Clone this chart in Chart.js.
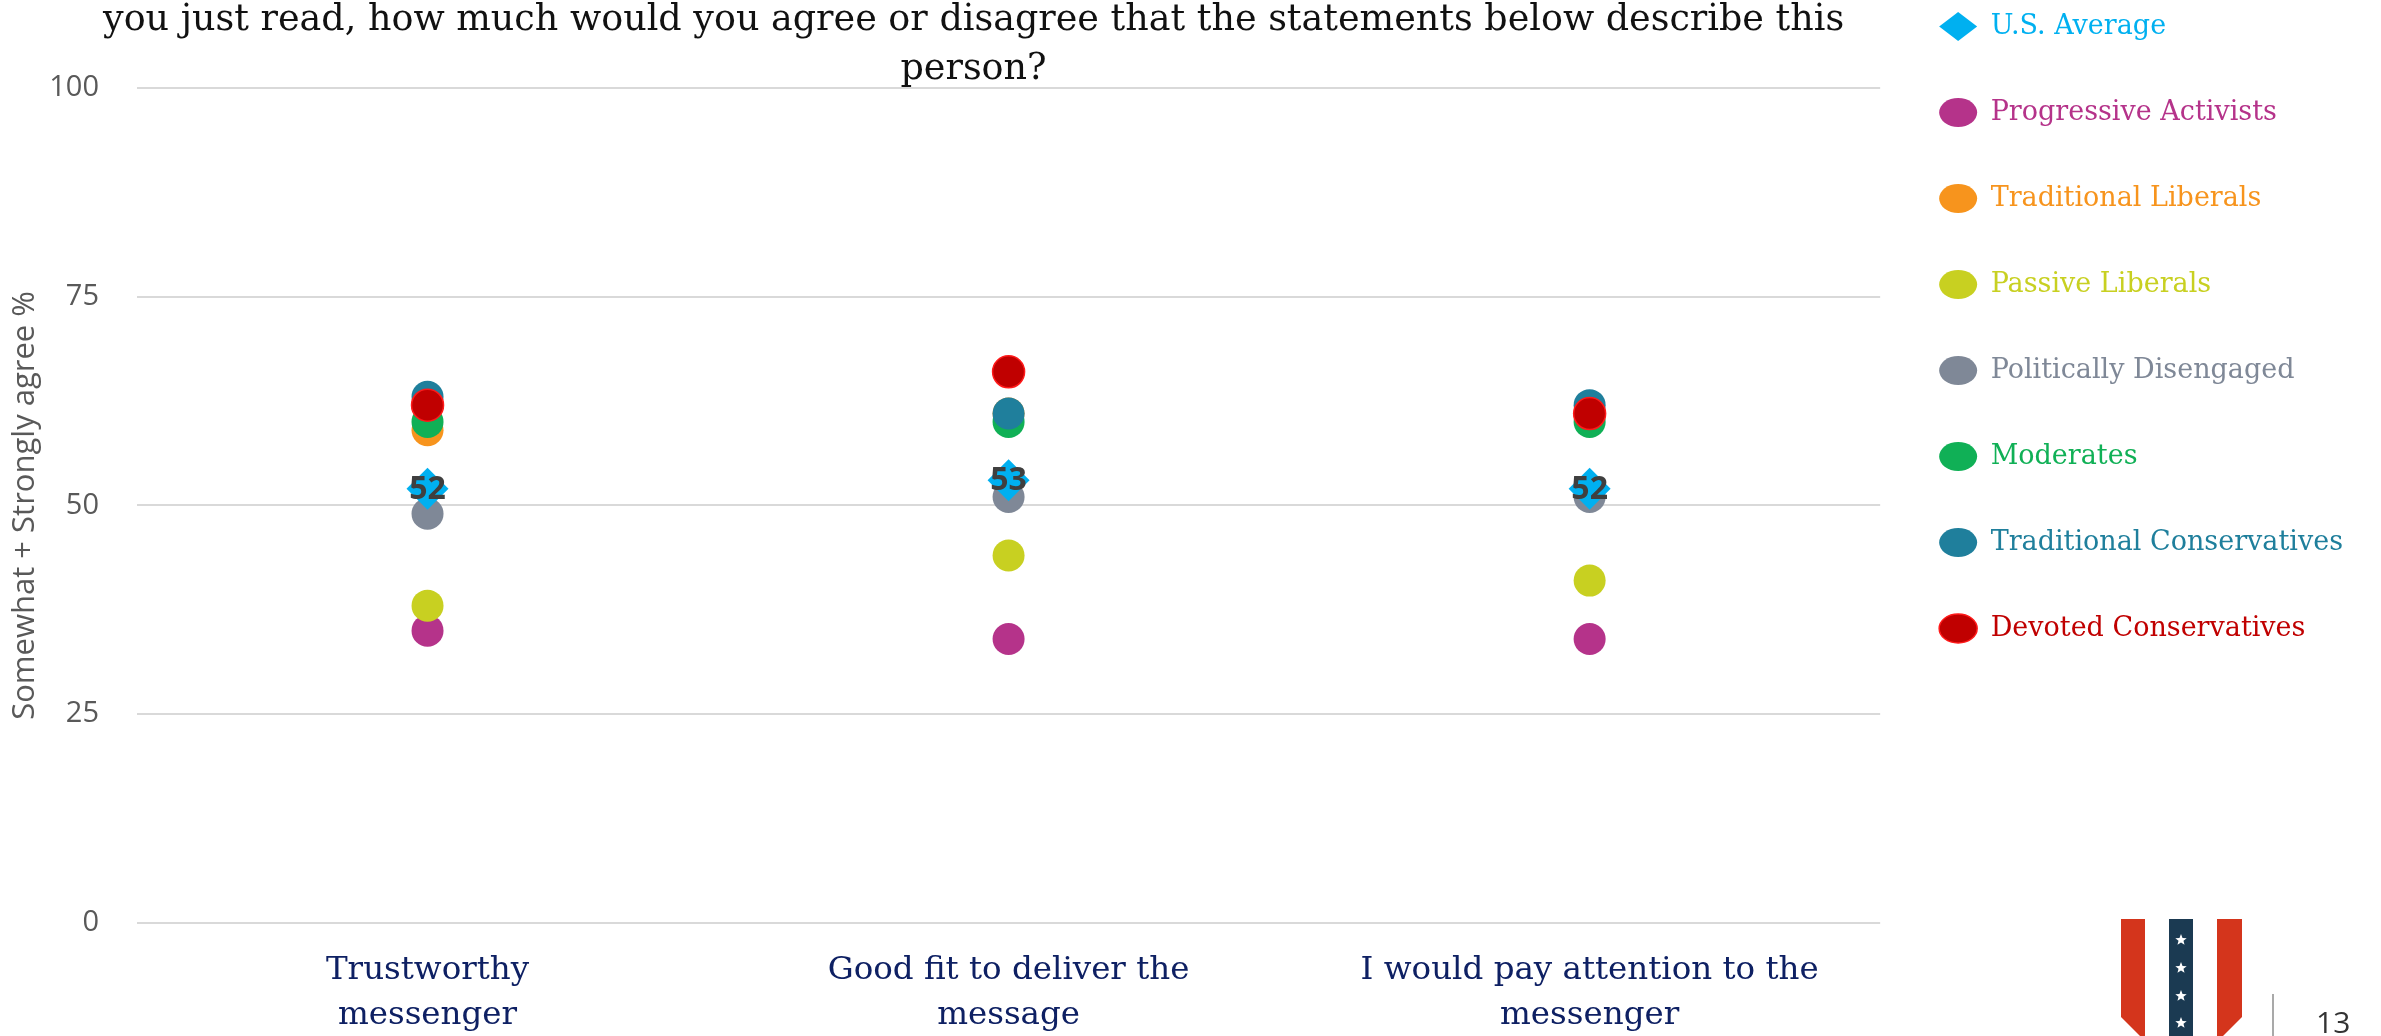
<!DOCTYPE html>
<html>
<head>
<meta charset="utf-8">
<script src="https://cdn.jsdelivr.net/npm/chart.js@4"></script>
<style>
  html, body { margin: 0; padding: 0; background: #fff; }
  #wrap { width: 2381px; height: 1036px; position: relative; }
</style>
</head>
<body>
<div id="wrap"><canvas id="messengerChart"></canvas></div>
<script>
// Categories and series values (Somewhat + Strongly agree %)
const categories = [
  ['Trustworthy', 'messenger'],
  ['Good fit to deliver the', 'message'],
  ['I would pay attention to the', 'messenger']
];
const seriesNames = [
  'U.S. Average', 'Progressive Activists', 'Traditional Liberals', 'Passive Liberals',
  'Politically Disengaged', 'Moderates', 'Traditional Conservatives', 'Devoted Conservatives'
];
const usAverage = [52, 53, 52];
const progressiveActivists = [35, 34, 34];
const traditionalLiberals = [59, 61, 61];
const passiveLiberals = [38, 44, 41];
const politicallyDisengaged = [49, 51, 51];
const moderates = [60, 60, 60];
const traditionalConservatives = [63, 61, 62];
const devotedConservatives = [62, 66, 61];
const yTicks = [0, 25, 50, 75, 100];

const seriesValues = [usAverage, progressiveActivists, traditionalLiberals, passiveLiberals,
  politicallyDisengaged, moderates, traditionalConservatives, devotedConservatives];
const seriesColors = ['#00b0f0', '#b5338a', '#f7941d', '#c8d021', '#7f8897', '#10b056', '#1f7f9c', '#c00000'];
// lower order is painted on top
const drawOrder = [0, 7, 4, 6, 5, 3, 2, 1];

const datasets = seriesNames.map((name, i) => ({
  label: name,
  data: seriesValues[i],
  showLine: false,
  order: drawOrder[i],
  pointStyle: i === 0 ? 'rectRot' : 'circle',
  pointRadius: i === 0 ? 21 : 16,
  pointHoverRadius: i === 0 ? 21 : 16,
  backgroundColor: seriesColors[i],
  borderColor: i === 7 ? '#ff1a1a' : seriesColors[i],
  pointBorderWidth: i === 7 ? 1.5 : 0
}));

// numbers on the U.S. Average diamonds
const valueLabels = {
  id: 'valueLabels',
  afterDatasetsDraw(chart) {
    const ctx = chart.ctx;
    const meta = chart.getDatasetMeta(0);
    ctx.save();
    ctx.font = 'bold 32px "Open Sans"';
    ctx.fillStyle = '#3f3f3f';
    ctx.textAlign = 'center';
    ctx.textBaseline = 'middle';
    meta.data.forEach((pt, i) => ctx.fillText(String(usAverage[i]), pt.x, pt.y + 1));
    ctx.restore();
  }
};

// title sits a little left of the plot centre on the slide
const titleShift = {
  id: 'titleShift',
  afterLayout(chart) {
    chart.titleBlock.left -= 35;
    chart.titleBlock.right -= 35;
  }
};

// slide footer: flag logo and page number
const footer = {
  id: 'footer',
  afterDraw(chart) {
    const ctx = chart.ctx;
    ctx.save();
    ctx.fillStyle = '#d4351c';
    ctx.beginPath();
    ctx.moveTo(2121, 919); ctx.lineTo(2145, 919); ctx.lineTo(2145, 1036);
    ctx.lineTo(2140, 1036); ctx.lineTo(2121, 1017); ctx.closePath(); ctx.fill();
    ctx.beginPath();
    ctx.moveTo(2217, 919); ctx.lineTo(2242, 919); ctx.lineTo(2242, 1017);
    ctx.lineTo(2223, 1036); ctx.lineTo(2217, 1036); ctx.closePath(); ctx.fill();
    ctx.fillStyle = '#1b3a52';
    ctx.fillRect(2169, 919, 24, 117);
    ctx.fillStyle = '#fff';
    [940, 968, 996, 1023].forEach(cy => {
      ctx.beginPath();
      for (let k = 0; k < 10; k++) {
        const r = k % 2 === 0 ? 6 : 2.6;
        const a = -Math.PI / 2 + k * Math.PI / 5;
        ctx.lineTo(2181 + r * Math.cos(a), cy + r * Math.sin(a));
      }
      ctx.closePath(); ctx.fill();
    });
    ctx.strokeStyle = '#8c8c8c';
    ctx.lineWidth = 1.5;
    ctx.beginPath(); ctx.moveTo(2273, 994); ctx.lineTo(2273, 1036); ctx.stroke();
    ctx.fillStyle = '#333';
    ctx.font = '30px "Open Sans"';
    ctx.textAlign = 'left';
    ctx.textBaseline = 'middle';
    ctx.fillText('13', 2316, 1024);
    ctx.restore();
  }
};

const chartEl = document.getElementById('messengerChart');

const chart = new Chart(chartEl, {
  type: 'line',
  data: { labels: categories, datasets: datasets },
  plugins: [valueLabels, titleShift, footer],
  options: {
    responsive: true,
    maintainAspectRatio: false,
    animation: false,
    layout: { padding: { top: -46, right: 28, bottom: 0, left: 0 } },
    plugins: {
      tooltip: { enabled: false },
      title: {
        display: true,
        fullSize: false,
        text: ['you just read, how much would you agree or disagree that the statements below describe this', 'person?'],
        color: '#111',
        font: { family: '"DejaVu Serif"', size: 36.5, weight: 'normal', lineHeight: 1.34 },
        padding: { top: 42, bottom: -6 }
      },
      legend: {
        position: 'right',
        align: 'start',
        labels: {
          usePointStyle: true,
          pointStyleWidth: 38,
          boxHeight: 20.5,
          padding: 59,
          font: { family: '"DejaVu Serif"', size: 27 },
          generateLabels(chart) {
            const items = Chart.defaults.plugins.legend.labels.generateLabels(chart);
            items.sort((a, b) => a.datasetIndex - b.datasetIndex);
            items.forEach(item => { item.fontColor = seriesColors[item.datasetIndex]; });
            return items;
          }
        }
      }
    },
    scales: {
      x: {
        type: 'category',
        offset: true,
        afterFit(scale) { scale.height = 113; },
        grid: { display: false },
        border: { display: false },
        ticks: {
          color: '#0e2063',
          padding: 17,
          maxRotation: 0,
          font: { family: '"DejaVu Serif"', size: 32.5, lineHeight: 1.38 }
        }
      },
      y: {
        min: 0,
        max: 100,
        afterBuildTicks(axis) { axis.ticks = yTicks.map(v => ({ value: v })); },
        afterFit(scale) { scale.width = 137; },
        grid: { color: '#d9d9d9', lineWidth: 2, drawTicks: false },
        border: { display: false },
        ticks: {
          color: '#595959',
          padding: 38,
          font: { family: '"Open Sans"', size: 29 }
        },
        title: {
          display: true,
          text: 'Somewhat + Strongly agree %',
          color: '#595959',
          font: { family: '"Open Sans"', size: 31 },
          padding: { top: 7, bottom: 3 }
        }
      }
    }
  }
});
</script>
</body>
</html>
